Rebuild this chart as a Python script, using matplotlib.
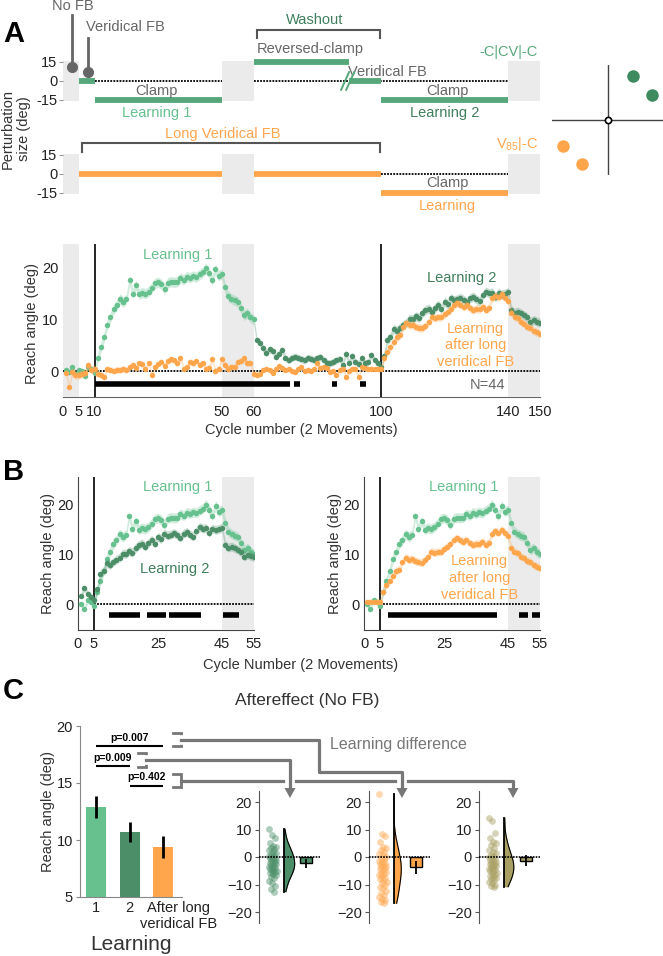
import numpy as np
import matplotlib
matplotlib.use("Agg")
import matplotlib.pyplot as plt
import matplotlib.patheffects as pe
from matplotlib.patches import Rectangle, Polygon
from matplotlib.transforms import ScaledTranslation

plt.rcParams['font.family'] = ['Liberation Sans', 'DejaVu Sans']
plt.rcParams['mathtext.fontset'] = 'custom'
plt.rcParams['mathtext.rm'] = 'Liberation Sans'
plt.rcParams['mathtext.it'] = 'Liberation Sans:italic'
plt.rcParams['mathtext.bf'] = 'Liberation Sans:bold'

W, H = 663, 956

LIGHT = '#66c18f'
DARK = '#4b8e68'
MID = '#56a87b'
ORANGE = '#ffa64d'
OLIVE = '#a89f62'
TXT = '#666666'
BAND = '#ebebeb'
LINE = '#777777'

# ---- learning curves, mean reach angle per cycle (cycles 1..150) ----
green_reach = [0.3, -0.2, 0.8, -0.5, 0.2, 0.0, -1.0, 0.8, 0.4, -0.3,
               2.5, 4.6, 6.6, 9.0, 10.4, 12.0, 12.8, 14.0, 13.4, 13.9,
               17.6, 15.0, 16.6, 14.9, 15.2, 15.0, 15.4, 16.1, 17.0, 17.2,
               16.8, 15.9, 17.1, 17.3, 17.2, 17.3, 18.0, 17.7, 18.3, 18.1,
               18.4, 18.2, 18.7, 19.1, 19.9, 18.9, 17.6, 19.7, 18.5, 18.8,
               16.2, 14.5, 14.0, 13.7, 13.4, 12.2, 10.8, 11.2, 10.4, 10.0,
               6.0, 5.5, 4.4, 3.5, 4.2, 3.9, 2.8, 3.4, 4.1, 2.5,
               2.1, 2.6, 2.8, 2.6, 2.3, 2.1, 2.6, 2.4, 2.2, 2.5,
               2.7, 2.2, 1.6, 1.5, 1.8, 2.1, 2.4, 1.2, 3.4, 1.6,
               2.9, 1.8, 1.4, 2.6, 1.5, 1.7, 3.2, 2.1, 1.5, 0.8,
               3.0, 6.0, 6.6, 8.2, 7.8, 8.4, 8.9, 9.3, 10.1, 10.0,
               10.6, 10.3, 11.2, 11.8, 12.1, 11.5, 12.2, 12.8, 12.1, 13.4,
               13.0, 14.1, 13.7, 13.9, 14.2, 13.8, 13.3, 14.1, 14.4, 13.9,
               13.5, 14.7, 15.4, 15.1, 15.2, 14.3, 15.1, 14.8, 15.0, 15.3,
               11.8, 11.3, 11.5, 11.2, 10.8, 10.4, 9.5, 9.9, 9.6, 9.4]
orange_reach = [-0.3, -3.0, -0.1, -0.8, -0.8, -0.5, -0.4, 1.2, 0.2, 0.5,
                -0.5, -0.8, -1.1, 0.5, 0.2, 0.1, 0.3, 0.2, 0.5, 0.2,
                0.8, 1.2, 0.7, 1.5, 1.4, 0.5, 1.6, -0.8, 0.8, 1.4,
                1.8, 1.0, 2.0, 2.3, 2.1, 1.5, 2.5, 0.5, 0.8, 1.8,
                1.5, 2.0, 1.2, 1.6, 0.5, 0.7, 2.3, 0.0, 0.5, 2.3,
                1.2, 0.5, 0.8, 0.9, 1.8, 2.0, 2.5, 1.5, 1.6, -0.5,
                -0.8, -0.5, 0.2, 0.5, 0.2, -0.3, 0.5, 1.0, 0.7, 0.2,
                0.5, 0.0, -0.1, 0.5, 0.8, 0.0, 0.3, 0.0, 0.5, 1.5,
                0.6, 0.8, 0.6, -0.1, 0.0, -0.8, 0.3, 0.5, -1.1, 0.0,
                0.5, 0.5, -1.2, 0.8, 0.6, 0.4, 0.5, 0.4, 0.5, 0.5,
                2.5, 3.8, 4.6, 5.7, 6.6, 6.9, 8.5, 9.3, 8.9, 9.0,
                8.6, 8.4, 8.3, 8.8, 9.5, 10.5, 10.3, 10.4, 10.5, 11.0,
                11.5, 12.0, 12.8, 13.2, 12.8, 12.5, 12.8, 12.2, 11.8, 12.1,
                12.0, 12.5, 11.9, 12.3, 14.1, 14.6, 14.3, 14.9, 14.2, 13.6,
                11.3, 10.5, 10.2, 9.5, 9.2, 8.6, 8.4, 7.8, 7.5, 7.2]
phase_len = [10, 50, 40, 50]
green_sem = [0.6, 1.0, 0.7, 0.9]
orange_sem = [0.8, 0.6, 0.5, 0.8]

nofb_blocks = [(0, 5), (50, 60), (140, 150)]
sig_A = [(10, 71.5), (72.7, 74.7), (84.5, 86.3), (93.5, 95.3)]
sig_B_left = [(9.7, 19.4), (21.6, 27.5), (28.5, 38.4), (45.3, 50.3)]
sig_B_right = [(7.5, 41.6), (48.4, 51.3), (52.5, 55)]

# ---- perturbation schedule (start, end, size) ----
schedule_top = [(5, 10, 0), (10, 50, -15), (60, 90, 15), (90, 100, 0), (100, 140, -15)]
schedule_bottom = [(5, 50, 0), (60, 100, 0), (100, 140, -15)]
dotted_top = [(10, 50), (60, 140)]
dotted_bottom = [(100, 140)]

# ---- panel C ----
learn_labels = ['1', '2', 'After long\nveridical FB']
learn_mean = [12.9, 10.7, 9.4]
learn_sem = [1.0, 0.9, 0.95]
p_pairs = [(0, 2, 'p=0.007'), (0, 1, 'p=0.009'), (1, 2, 'p=0.402')]

diff_green = [10.1, 8.0, 6.8, 5.0, 4.1, 3.6, 3.2, 2.8, 2.5, 2.0, 1.6, 1.2, 0.7, 0.3, 0.1,
              -0.3, -0.5, -0.9, -1.1, -1.5, -1.7, -2.0, -2.3, -2.6, -2.9, -3.2, -3.5, -3.9,
              -4.1, -4.4, -4.7, -5.0, -5.3, -5.6, -5.9, -6.2, -6.5, -7.2, -7.8, -8.6, -9.6,
              -10.5, -11.8, -12.6]
diff_orange = [22.8, 8.4, 7.6, 5.6, 3.8, 3.2, 2.6, 1.9, 1.2, 0.6, 0.1, -0.4, -0.9, -1.3, -1.8,
               -2.2, -2.6, -3.0, -3.3, -3.7, -4.1, -4.5, -4.9, -5.3, -5.8, -6.2, -6.6, -7.0,
               -7.5, -8.0, -8.5, -9.0, -9.6, -10.2, -10.8, -11.4, -12.2, -13.0, -13.8, -14.4,
               -15.1, -15.6, -16.2, -16.8]
diff_olive = [14.1, 13.2, 8.6, 6.8, 5.6, 5.0, 4.2, 3.2, 2.5, 1.9, 1.3, 0.8, 0.4, 0.0, -0.3,
              -0.7, -1.0, -1.4, -1.7, -2.0, -2.4, -2.7, -3.0, -3.3, -3.6, -3.9, -4.2, -4.5,
              -4.8, -5.1, -5.4, -5.7, -6.0, -6.4, -6.8, -7.2, -7.6, -8.0, -8.5, -9.0, -9.5,
              -10.0, -10.4, -10.8]
diff_mean = [-2.3, -3.8, -1.3]
diff_sem = [1.6, 2.4, 2.0]

quad_green = [(0.46, 0.8), (0.8, 0.45)]
quad_orange = [(-0.8, -0.47), (-0.46, -0.8)]


fig = plt.figure(figsize=(W / 100, H / 100), dpi=100)


def add_ax(x0, y0, x1, y1, **kw):
    # axes from pixel box (top-left origin)
    return fig.add_axes([x0 / W, 1 - y1 / H, (x1 - x0) / W, (y1 - y0) / H], **kw)


def curve(ax, x, y, s, color, z):
    ax.fill_between(x, y - s, y + s, color=color, alpha=0.3, lw=0, zorder=z)
    ax.plot(x, y, 'o', ms=3.9, color=color, mec='none', zorder=z + 0.1)


cyc = np.arange(1, 151)
g = np.array(green_reach)
o = np.array(orange_reach)
gs = np.repeat(green_sem, phase_len)
osem = np.repeat(orange_sem, phase_len)

# ================= Panel A: schedule =================
axS = add_ax(62.7, 0, 540, 215)
axS.set_xlim(0, 150)
axS.set_ylim(-105.8, 63.9)
axS.patch.set_alpha(0)
for s in axS.spines.values():
    s.set_visible(False)
axS.set_xticks([])
R2 = -73.4
axS.set_yticks([15, 0, -15, 15 + R2, R2, -15 + R2])
axS.set_yticklabels(['15', '0', '-15'] * 2)
axS.tick_params(axis='y', length=3, color='#999999', labelsize=10.5, pad=1, labelcolor='#222222')

for off in (0, R2):
    for a, b in nofb_blocks:
        axS.add_patch(Rectangle((a, off - 15.5), b - a, 31, color=BAND, lw=0, zorder=1))
for a, b in dotted_top:
    axS.plot([a, b], [0, 0], color='k', ls=(0, (1, 0.7)), lw=1.3, zorder=2)
for a, b in dotted_bottom:
    axS.plot([a, b], [R2, R2], color='k', ls=(0, (1, 0.7)), lw=1.3, zorder=2)
for a, b, p in schedule_top:
    axS.hlines(p, a, b, color=MID, lw=4.2, capstyle='butt', zorder=3)
for a, b, p in schedule_bottom:
    axS.hlines(R2 + p, a, b, color=ORANGE, lw=4.2, capstyle='butt', zorder=3)

# break mark on the reversed clamp -> veridical switch
for dx in (0, 1.6):
    axS.plot([87.5 + dx, 90 + dx], [-7, 7], color=MID, lw=1.4, zorder=4)

# pointers
axS.plot([2.9, 2.9], [52, 11.3], color=TXT, lw=2, zorder=4)
axS.plot(2.9, 11.3, 'o', color=TXT, ms=7, zorder=4)
axS.plot([8.0, 8.0], [34, 7.1], color=TXT, lw=2, zorder=4)
axS.plot(8.0, 7.1, 'o', color=TXT, ms=7, zorder=4)
axS.text(3.3, 59, 'No FB', color=TXT, fontsize=10.5, ha='center', va='center')
axS.text(7.3, 42.6, 'Veridical FB', color=TXT, fontsize=10.5, ha='left', va='center')


def bracket(ax, x0, x1, ytop, ybot):
    ax.plot([x0, x0, x1, x1], [ybot, ytop, ytop, ybot], color='#555555', lw=1.5,
            solid_joinstyle='miter')


bracket(axS, 61, 99.7, 40.3, 33.9)
bracket(axS, 6, 99.7, R2 + 24.5, R2 + 17.4)
axS.text(79.2, 48.1, 'Washout', color='#3f7f5c', fontsize=10.5, ha='center', va='center')
axS.text(61.1, 25.3, 'Reversed-clamp', color=TXT, fontsize=10.5, ha='left', va='center')
axS.text(102, 7.1, 'Veridical FB', color=TXT, fontsize=10.5, ha='center', va='center')
axS.text(29.4, -8.3, 'Clamp', color=TXT, fontsize=10.5, ha='center', va='center')
axS.text(29.5, -25.3, 'Learning 1', color=LIGHT, fontsize=10.5, ha='center', va='center')
axS.text(121, -8.3, 'Clamp', color=TXT, fontsize=10.5, ha='center', va='center')
axS.text(119.9, -25.3, 'Learning 2', color='#3f7f5c', fontsize=10.5, ha='center', va='center')
axS.text(140, 22.9, '-C|CV|-C', color=MID, fontsize=10.5, ha='center', va='center')
axS.text(50.2, R2 + 31.6, 'Long Veridical FB', color=ORANGE, fontsize=10.5, ha='center', va='center')
axS.text(121, R2 - 7.1, 'Clamp', color=TXT, fontsize=10.5, ha='center', va='center')
axS.text(121, R2 - 25.3, 'Learning', color=ORANGE, fontsize=10.5, ha='center', va='center')
axS.text(142.9, R2 + 23.7, r'V$_{\mathrm{85}}$|-C', color=ORANGE, fontsize=10.5, ha='center', va='center')

# quadrant sketch
axQ = add_ax(552, 65, 663, 175)
axQ.set_xlim(-1, 1)
axQ.set_ylim(-1, 1)
axQ.axis('off')
axQ.plot([-1, 1], [0, 0], color='#444444', lw=1)
axQ.plot([0, 0], [-1, 1], color='#444444', lw=1)
axQ.plot(0, 0, 'o', mfc='white', mec='k', ms=4.5, mew=1.2)
axQ.plot(*zip(*quad_green), 'o', color='#3d8b5e', ms=9, ls='none', mec='none')
axQ.plot(*zip(*quad_orange), 'o', color=ORANGE, ms=9, ls='none', mec='none')

# ================= Panel A: learning curves =================
axA = add_ax(62.7, 244, 540, 397)
axA.set_xlim(0, 150)
axA.set_ylim(-5, 24.6)
for a, b in nofb_blocks:
    axA.axvspan(a, b, color=BAND, lw=0, zorder=0.6)
axA.spines[['top', 'right', 'left']].set_visible(False)
axA.spines['bottom'].set_color('#666666')
axA.spines['bottom'].set_zorder(0.5)
axA.axhline(0, color='k', ls=(0, (1, 0.7)), lw=1.3, zorder=2)
for xv in (10, 100):
    axA.axvline(xv, color='k', lw=1.2, zorder=2.2)
early = cyc <= 60
curve(axA, cyc[early], g[early], gs[early], LIGHT, 3)
axA.fill_between(cyc[59:], g[59:] - gs[59:], g[59:] + gs[59:], color=DARK, alpha=0.3, lw=0, zorder=3)
axA.plot(cyc[60:], g[60:], 'o', ms=3.9, color=DARK, mec='none', zorder=3.1)
curve(axA, cyc, o, osem, ORANGE, 4)
axA.hlines([-2.5] * len(sig_A), [a for a, b in sig_A], [b for a, b in sig_A],
           color='k', lw=4, capstyle='butt', zorder=5)
axA.set_xticks([0, 5, 10, 50, 60, 100, 140, 150])
axA.set_yticks([0, 10, 20])
axA.tick_params(length=0, labelsize=10.5, labelcolor='#222222')
axA.tick_params(axis='x', pad=6)
axA.tick_params(axis='y', pad=3)
axA.text(36.1, 22.4, 'Learning 1', color=LIGHT, fontsize=10.5, ha='center', va='center')
axA.text(125.3, 18.1, 'Learning 2', color='#3f7f5c', fontsize=10.5, ha='center', va='center')
axA.text(129.7, 5.0, 'Learning\nafter long\nveridical FB', color=ORANGE, fontsize=10.5,
         ha='center', va='center', linespacing=1.25)
axA.text(133.6, -2.6, 'N=44', color=TXT, fontsize=10.5, ha='center', va='center')

# ================= Panel B =================
xb = np.arange(1, 56)
bl1, bl1s = g[5:60], gs[5:60]
bl2, bl2s = g[95:150], gs[95:150]
bor, bors = o[95:150], osem[95:150]


def panel_b(x0, second, sig, label2, y2, label_color):
    ax = add_ax(x0, 477, x0 + 176, 630)
    ax.set_xlim(0, 55)
    ax.set_ylim(-5.2, 25.4)
    ax.axvspan(45, 55, color=BAND, lw=0, zorder=0.6)
    ax.spines[['top', 'right']].set_visible(False)
    for s in ('left', 'bottom'):
        ax.spines[s].set_color('#444444')
        ax.spines[s].set_zorder(0.5)
    ax.plot([5, 55], [0, 0], color='k', ls=(0, (1, 0.7)), lw=1.3, zorder=2)
    ax.axvline(5, color='k', lw=1.2, zorder=2.2)
    curve(ax, xb, bl1, bl1s, LIGHT, 3)
    curve(ax, xb, second[0], second[1], second[2], 4)
    ax.hlines([-2.1] * len(sig), [a for a, b in sig], [b for a, b in sig],
              color='k', lw=4, capstyle='butt', zorder=5)
    ax.set_xticks([0, 5, 25, 45, 55])
    ax.set_yticks([0, 10, 20])
    ax.tick_params(length=0, labelsize=10.5, labelcolor='#222222')
    ax.tick_params(axis='x', pad=5)
    ax.tick_params(axis='y', pad=3)
    ax.text(31.2, 23.3, 'Learning 1', color=LIGHT, fontsize=10.5, ha='center', va='center')
    ax.text(label2[0], y2, label2[1], color=label_color,
            fontsize=10.5, ha='center', va='center', linespacing=1.25)
    return ax


panel_b(78, (bl2, bl2s, DARK), sig_B_left, (30.2, 'Learning 2'), 7.0, '#3f7f5c')
panel_b(364, (bor, bors, ORANGE), sig_B_right, (36, 'Learning\nafter long\nveridical FB'), 5.2, ORANGE)

# ================= Panel C: bars =================
axC = add_ax(80, 726, 182, 897)
xs = np.arange(3)
axC.bar(xs, learn_mean, width=0.6, color=[LIGHT, DARK, ORANGE], zorder=2)
axC.errorbar(xs, learn_mean, yerr=learn_sem, fmt='none', ecolor='k', elinewidth=2, capsize=0, zorder=3)
axC.set_xlim(-0.48, 2.56)
axC.set_ylim(5, 20)
axC.spines[['top', 'right']].set_visible(False)
for s in ('left', 'bottom'):
    axC.spines[s].set_color('#888888')
axC.set_yticks([5, 10, 15, 20])
axC.set_xticks(xs)
axC.set_xticklabels(learn_labels)
axC.tick_params(axis='y', length=3, color='#888888', labelsize=10.5, labelcolor='#222222', pad=2)
axC.tick_params(axis='x', length=0, labelsize=10.5, labelcolor='#222222', pad=3)
lbl = axC.get_xticklabels()[2]
lbl.set_transform(lbl.get_transform() + ScaledTranslation(0.15, 0, fig.dpi_scale_trans))
p_line_y = [18.24, 16.48, 14.78]
for (i, j, txt), yl in zip(p_pairs, p_line_y):
    axC.plot([i, j], [yl, yl], color='k', lw=1.5, clip_on=False, solid_capstyle='butt')
    axC.text((i + j) / 2, yl + 0.3, txt, ha='center', va='bottom', fontsize=7.5,
             fontweight='bold', clip_on=False)

# ================= Panel C: learning-difference half violins =================


def kde(vals, grid):
    v = np.asarray(vals)
    bw = 1.06 * v.std() * len(v) ** (-0.2)
    z = (grid[:, None] - v[None, :]) / bw
    return np.exp(-0.5 * z ** 2).sum(axis=1) / (len(v) * bw * np.sqrt(2 * np.pi))


diffs = [diff_green, diff_orange, diff_olive]
vcols = [DARK, ORANGE, OLIVE]
grid_g = np.linspace(min(diff_green), max(diff_green), 200)
vscale = 0.18 / kde(diff_green, grid_g).max()
for k, (vals, col) in enumerate(zip(diffs, vcols)):
    x0 = 259 + 110 * k
    ax = add_ax(x0, 791, x0 + 61, 923)
    ax.set_xlim(0, 1)
    ax.set_ylim(-24, 24)
    ax.spines[['top', 'right', 'bottom']].set_visible(False)
    ax.spines['left'].set_color('#555555')
    ax.set_xticks([])
    ax.set_yticks([-20, -10, 0, 10, 20])
    ax.tick_params(axis='y', length=3, color='#555555', labelsize=10.5, labelcolor='#222222', pad=2)
    ax.plot([0, 1], [0, 0], color='k', ls=(0, (1, 0.7)), lw=1.2, zorder=5)
    n = len(vals)
    jit = 0.16 + 0.13 * ((np.arange(n) * 17) % n) / n
    ax.scatter(jit, vals, s=24, color=col, alpha=0.45, lw=0, zorder=2)
    grid = np.linspace(min(vals), max(vals), 200)
    dens = kde(vals, grid) * vscale
    base = 0.405
    ax.fill_betweenx(grid, base, base + dens, color=col, lw=0, zorder=3)
    ax.plot(base + dens, grid, color='k', lw=0.8, zorder=4)
    ax.plot([base, base], [min(vals), max(vals)], color='k', lw=1.3, zorder=4)
    ax.bar(0.77, diff_mean[k], width=0.2, color=col, edgecolor='k', lw=1, zorder=3)
    ax.errorbar(0.77, diff_mean[k], yerr=diff_sem[k], fmt='none', ecolor='k',
                elinewidth=1.3, capsize=0, zorder=4)

# ================= overlay: labels, connectors =================
ov = fig.add_axes([0, 0, 1, 1], zorder=20)
ov.set_xlim(0, W)
ov.set_ylim(H, 0)
ov.axis('off')

for letter, yy in (('A', 34), ('B', 472), ('C', 691)):
    ov.text(3, yy, letter, fontsize=21, fontweight='bold', ha='left', va='center')

ov.text(16, 129, 'Perturbation\nsize (deg)', rotation=90, fontsize=10.5, color='#333333',
        ha='center', va='center', linespacing=1.2)
ov.text(32, 323, 'Reach angle (deg)', rotation=90, fontsize=10.5, color='#333333', ha='center', va='center')
ov.text(301, 430, 'Cycle number (2 Movements)', fontsize=10.5, color='#333333', ha='center', va='center')
ov.text(48, 553, 'Reach angle (deg)', rotation=90, fontsize=10.5, color='#333333', ha='center', va='center')
ov.text(335, 553, 'Reach angle (deg)', rotation=90, fontsize=10.5, color='#333333', ha='center', va='center')
ov.text(301, 665, 'Cycle Number (2 Movements)', fontsize=10.5, color='#333333', ha='center', va='center')
ov.text(48, 812, 'Reach angle (deg)', rotation=90, fontsize=10.5, color='#333333', ha='center', va='center')
ov.text(90, 944, 'Learning', fontsize=15, color='#333333', ha='left', va='center')
ov.text(235, 700, 'Aftereffect (No FB)', fontsize=12.5, color='#333333', ha='left', va='center')
ov.text(330, 744, 'Learning difference', fontsize=11.5, color=LINE, ha='left', va='center')

# brackets next to p-values
for bx, yt, yb in ((181, 733, 746), (146, 753, 767), (181, 774, 787)):
    ov.plot([bx - 8, bx, bx, bx - 8], [yt, yt, yb, yb], color=LINE, lw=2, solid_joinstyle='miter')

white = [pe.withStroke(linewidth=7, foreground='white')]
ov.plot([181, 513, 513], [780.7, 780.7, 790], color=LINE, lw=2.3, zorder=2)
ov.plot([181, 319, 319, 402, 402], [739.5, 739.5, 772, 772, 790], color=LINE, lw=2.3,
        path_effects=white, zorder=2.1)
ov.plot([146, 290, 290], [760, 760, 790], color=LINE, lw=2.3, path_effects=white, zorder=2.2)
for ax_x in (290, 402, 513):
    ov.add_patch(Polygon([(ax_x - 5.5, 788), (ax_x + 5.5, 788), (ax_x, 798)], closed=True,
                         color=LINE, lw=0, zorder=3))

fig.savefig('out.png', dpi=100)
